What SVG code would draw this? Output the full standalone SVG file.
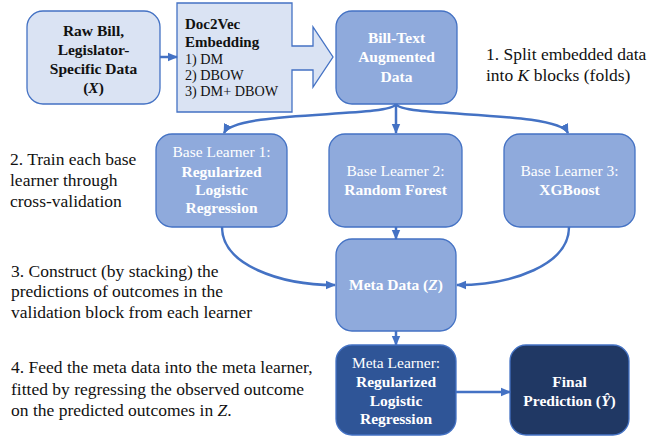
<svg xmlns="http://www.w3.org/2000/svg" width="658" height="436" viewBox="0 0 658 436" font-family="'Liberation Serif', 'Times New Roman', 'DejaVu Serif', serif">
<defs>
<marker id="ah" markerUnits="userSpaceOnUse" markerWidth="10" markerHeight="10" viewBox="0 0 10 10" refX="9" refY="5" orient="auto">
<path d="M0,0.8 L10,5 L0,9.2 Z" fill="#4472c4"/>
</marker>
<style>
text{font-family:'Liberation Serif','Times New Roman','DejaVu Serif',serif;}
.step{font-size:17.5px;fill:#111;}
.bx{font-size:15.5px;text-anchor:middle;}
.b{font-weight:bold;}
.w{fill:#fff;}
.k{fill:#111;}
.light{fill:#dae3f3;stroke:#4472c4;stroke-width:1.3;}
.mid{fill:#8faadc;stroke:#4472c4;stroke-width:1.3;}
.dark{fill:#2f5597;stroke:#4472c4;stroke-width:1.3;}
.darker{fill:#203864;stroke:#4472c4;stroke-width:1.3;}
.c{fill:none;stroke:#4472c4;stroke-width:2.5;marker-end:url(#ah);}
</style>
</defs>
<rect width="658" height="436" fill="#fff"/>

<g id="raw">
<rect class="light" x="27" y="11" width="133" height="93" rx="16"/>
<text class="bx b k" x="93.5"><tspan x="93.5" y="36">Raw Bill,</tspan><tspan x="93.5" y="55">Legislator-</tspan><tspan x="93.5" y="74">Specific Data</tspan><tspan x="93.5" y="93">(<tspan font-style="italic">X</tspan>)</tspan></text>
</g>

<g id="doc2vec">
<polygon class="light" points="177,3 292,3 292,46 313,46 313,27 333,57 313,87 313,70 292,70 292,112 177,112"/>
<text class="b k" font-size="15" x="185" y="29">Doc2Vec</text>
<text class="b k" font-size="15" x="185" y="47">Embedding</text>
<text class="k" font-size="14.2" x="185" y="64">1) DM</text>
<text class="k" font-size="14.2" x="185" y="80">2) DBOW</text>
<text class="k" font-size="14.2" x="185" y="96">3) DM+ DBOW</text>
</g>

<g id="billtext">
<rect class="mid" x="336" y="11" width="121" height="93" rx="16"/>
<text class="bx b w"><tspan x="396.5" y="43">Bill-Text</tspan><tspan x="396.5" y="62">Augmented</tspan><tspan x="396.5" y="82">Data</tspan></text>
</g>

<g id="base1">
<rect class="mid" x="156" y="134" width="131" height="93" rx="16"/>
<text class="bx w"><tspan x="221.5" y="157">Base Learner 1:</tspan><tspan class="b" x="221.5" y="177">Regularized</tspan><tspan class="b" x="221.5" y="195">Logistic</tspan><tspan class="b" x="221.5" y="213">Regression</tspan></text>
</g>

<g id="base2">
<rect class="mid" x="329" y="134" width="133" height="93" rx="16"/>
<text class="bx w"><tspan x="395.5" y="176">Base Learner 2:</tspan><tspan class="b" x="395.5" y="195">Random Forest</tspan></text>
</g>

<g id="base3">
<rect class="mid" x="504" y="134" width="131" height="93" rx="16"/>
<text class="bx w"><tspan x="569.5" y="176">Base Learner 3:</tspan><tspan class="b" x="569.5" y="195">XGBoost</tspan></text>
</g>

<g id="metadata">
<rect class="mid" x="336" y="239" width="120" height="92" rx="16"/>
<text class="bx b w" x="396" y="290">Meta Data (<tspan font-style="italic">Z</tspan>)</text>
</g>

<g id="metalearner">
<rect class="dark" x="336" y="345" width="120" height="90" rx="16"/>
<text class="bx w"><tspan x="396" y="368">Meta Learner:</tspan><tspan class="b" x="396" y="387">Regularized</tspan><tspan class="b" x="396" y="406">Logistic</tspan><tspan class="b" x="396" y="424">Regression</tspan></text>
</g>

<g id="final">
<rect class="darker" x="510" y="345" width="119" height="90" rx="16"/>
<text class="bx b w"><tspan x="569.5" y="387">Final</tspan><tspan x="569.5" y="406">Prediction (<tspan font-style="italic">Ŷ</tspan>)</tspan></text>
</g>

<g id="connectors">
<path class="c" d="M160,57 H177"/>
<path class="c" d="M396,104 C390,118 235,110 224,133"/>
<path class="c" d="M396,104 V133"/>
<path class="c" d="M396,104 C402,118 557,110 568,133"/>
<path class="c" d="M222,227 C222,265 280,285 335,285"/>
<path class="c" d="M396,227 V239"/>
<path class="c" d="M569,227 C569,265 512,285 457,285"/>
<path class="c" d="M396,331 V345"/>
<path class="c" d="M456,392 H510"/>
</g>

<g id="steps">
<text class="step"><tspan x="486" y="60">1. Split embedded data</tspan><tspan x="486" y="81">into <tspan font-style="italic">K</tspan> blocks (folds)</tspan></text>
<text class="step"><tspan x="10" y="165">2. Train each base</tspan><tspan x="10" y="186">learner through</tspan><tspan x="10" y="207">cross-validation</tspan></text>
<text class="step"><tspan x="11" y="277">3. Construct (by stacking) the</tspan><tspan x="11" y="297">predictions of outcomes in the</tspan><tspan x="11" y="318">validation block from each learner</tspan></text>
<text class="step"><tspan x="11" y="373">4. Feed the meta data into the meta learner,</tspan><tspan x="11" y="395">fitted by regressing the observed outcome</tspan><tspan x="11" y="416">on the predicted outcomes in <tspan font-style="italic">Z</tspan>.</tspan></text>
</g>
</svg>
